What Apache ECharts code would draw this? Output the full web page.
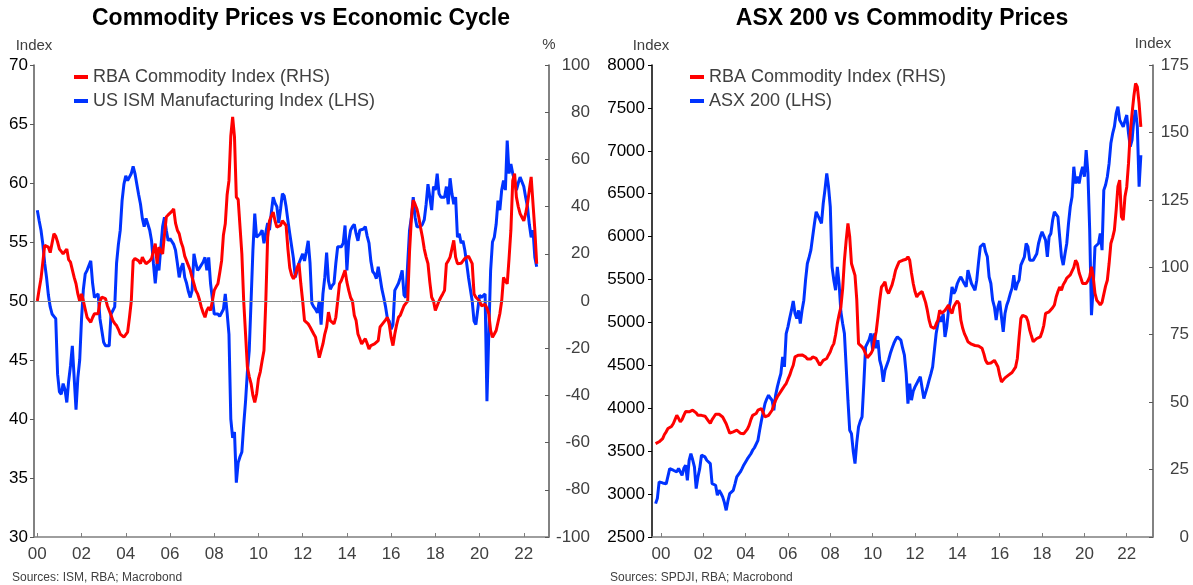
<!DOCTYPE html>
<html>
<head>
<meta charset="utf-8">
<script src="https://cdn.jsdelivr.net/npm/echarts@6/dist/echarts.min.js"></script>
<style>
html, body { margin: 0; padding: 0; background: #fff; }
#chart { width: 1193px; height: 585px; }
</style>
</head>
<body>
<div id="chart"></div>
<script>
// monthly series, left panel starts Jan 2000
var leftStart = 2000;
var ismValues = [
    57.7, 56.8, 56.0, 54.8, 53.2, 52.0, 50.5, 49.5, 48.9, 48.7, 48.5, 43.8,
    42.3, 42.1, 43.0, 42.5, 41.4, 43.2, 44.5, 46.2, 46.1, 40.8, 43.5, 45.0,
    48.5, 51.0, 52.3, 52.6, 53.0, 53.4, 51.5, 50.3, 50.4, 50.6, 48.5, 47.5,
    46.5, 46.2, 46.3, 46.2, 48.9, 49.2, 49.5, 53.2, 54.8, 56.0, 58.5, 59.9,
    60.6, 60.2, 60.2, 60.8, 61.4, 60.8, 59.9, 59.0, 58.2, 57.0, 56.3, 57.0,
    56.5, 56.0, 55.1, 53.2, 51.5, 53.2, 52.6, 54.5, 56.3, 57.1, 56.0, 55.1,
    55.3, 55.4, 54.8, 54.3, 53.2, 52.0, 52.8, 53.2, 52.0, 51.5, 50.8, 50.3,
    50.9, 54.0, 53.2, 52.6, 52.8, 52.9, 53.3, 53.7, 52.6, 53.7, 51.5, 50.2,
    48.9, 48.9, 48.9, 48.7, 48.6, 49.3, 50.6, 49.0, 47.2, 40.0, 38.4, 38.9,
    34.6, 36.3, 36.8, 37.2, 39.5, 41.5, 44.0, 45.8, 50.0, 54.3, 57.4, 55.4,
    55.5, 55.7, 56.0, 54.9, 55.8, 56.6, 56.0, 57.5, 58.8, 58.3, 58.0, 56.6,
    57.8, 59.1, 58.9, 58.0, 56.8, 55.7, 55.8, 53.6, 52.0, 52.6, 53.2, 53.6,
    54.0, 53.4, 54.2, 55.1, 53.2, 49.8, 49.5, 49.3, 49.0, 50.0, 48.0, 50.6,
    52.0, 54.1, 51.7, 51.0, 51.3, 51.5, 53.2, 54.6, 54.6, 54.6, 54.9, 56.4,
    52.6, 55.1, 56.0, 56.3, 56.5, 55.7, 55.1, 56.0, 56.0, 56.1, 56.3, 55.5,
    54.9, 53.4, 52.5, 52.3, 51.9, 52.9, 52.0, 51.0, 50.3, 49.5, 48.5, 48.3,
    47.6, 48.0, 50.9, 51.2, 51.5, 52.0, 52.6, 50.5, 50.3, 53.2, 56.0, 57.1,
    58.8, 57.1, 56.3, 56.3, 56.3, 56.5, 56.9, 58.2, 59.9, 58.8, 57.7, 59.7,
    59.4, 60.8, 59.1, 58.8, 58.8, 58.8, 59.7, 58.2, 60.4, 59.1, 58.2, 58.8,
    55.4, 55.7, 54.9, 55.1, 54.3, 53.2, 52.0, 51.0, 50.0, 48.3, 48.0, 48.0,
    50.5, 50.3, 50.3, 50.6, 41.5, 47.2, 52.6, 55.0, 55.4, 56.5, 58.5, 57.7,
    59.4, 60.2, 59.4, 63.6, 60.8, 61.6, 60.8, 60.2, 59.4, 60.0, 60.5, 60.5,
    59.7, 58.8, 58.0, 56.5, 55.4, 56.0, 53.7, 52.9
];
// RBA commodity index, % y/y
var rbaYoyValues = [
    0, 5, 9.5, 10, 23.6, 23, 22.8, 20.5, 20, 28.5, 27.5, 25,
    22, 21, 20, 21, 22, 17.5, 16.5, 15.8, 10, 7.3, 3, 0,
    3, 0, -3.5, -6.9, -8, -9, -7, -5.4, -5.4, -5.4, 0, 1.6,
    2.3, 1, -2, -4, -6, -8.3, -9.5, -10.4, -12, -14, -14.5, -15.3,
    -14.5, -13.2, -7, 0, 17, 18, 18.6, 17, 15.8, 18.6, 17, 15.8,
    16.5, 17, 18, 18.6, 24.3, 15.8, 22.8, 21, 20, 28, 35.6, 36.5,
    37, 38, 39, 33, 30, 28.5, 25, 22.8, 19, 17, 15, 13,
    10, 7.3, 4.5, 3, 0.5, -2.6, -5, -6.9, -4, -2.6, -4, 0,
    4.5, 6, 7.3, 12, 17, 28, 32.7, 45, 51, 70, 78, 69.5,
    44, 43, 42.6, 20, 0, -14, -28, -32, -35, -40, -43, -39.4,
    -33, -30, -25.3, -21, 0, 27, 34, 36, 37.7, 34, 31.3, 31.5,
    32, 34, 34, 32, 22, 14, 11, 9.4, 10.8, 14, 15.8, 7.3,
    0, -8.3, -9, -9.7, -11, -12.5, -14, -15.4, -20, -24, -21, -18.2,
    -14, -11.1, -4.7, -8.3, -9, -9.7, -6.9, 0, 7.3, 8.7, 8.7, 13,
    8, 4.5, 1.5, 0, -6, -8.3, -14, -16, -18.2, -17, -16, -18,
    -20.3, -18.9, -18.5, -18.2, -17.5, -16.8, -11, -10, -9.7, -8, -6.9, -10,
    -15.4, -18.9, -14, -10, -6.9, -6, -5.4, -2, -1, 0, 21, 35,
    42.7, 41, 39, 35.6, 31, 27, 22, 18.6, 15.8, 8, 1.6, 0,
    -4, -2, 0, 1.6, 3, 4.5, 15.8, 17, 18.6, 19, 25.7, 18.6,
    15.8, 15.8, 16, 17, 18, 18.6, 19, 19.3, 15.8, 3, 1.6, 1.6,
    0, -2, -1.8, -1.5, -3, -5.4, -12.5, -15.4, -14, -12.5, -9, -5.4,
    0, 10, 8.5, 7.3, 18, 30, 51, 54, 44, 40, 37, 35.5,
    34, 37, 41.2, 47, 52.6, 41.2, 30, 15.8
];

// right panel starts Oct 1999
var rightStart = 1999.75;
var asxValues = [
    2889, 2950, 3142,
    3120, 3130, 3140, 3120, 3103, 3297, 3290, 3278, 3265, 3258, 3300, 3317,
    3219, 3300, 3336, 3161, 3394, 3472, 3400, 3317, 3064, 3200, 3297, 3453,
    3440, 3433, 3394, 3375, 3355, 3122, 3110, 3103, 2986, 3044, 3010, 2967,
    2900, 2811, 2920, 3005, 3020, 3044, 3120, 3200, 3230, 3258, 3297, 3340,
    3375, 3410, 3433, 3470, 3511, 3540, 3560, 3627, 3750, 3861, 3960, 4055,
    4110, 4152, 4120, 4094, 3977, 4150, 4249, 4330, 4405, 4599, 4483, 4871,
    4949, 5050, 5143, 5250, 5104, 5046, 5140, 4988, 5143, 5260, 5500, 5687,
    5760, 5843, 5998, 6150, 6290, 6270, 6200, 6154, 6387, 6550, 6737, 6581,
    6348, 5648, 5493, 5376, 5648, 5450, 5124, 4988, 4871, 4483, 4094, 3744,
    3705, 3500, 3355, 3600, 3783, 3850, 3899, 4288, 4716, 4735, 4800, 4871,
    4677, 4871, 4700, 4794, 4560, 4483, 4308, 4444, 4444, 4560, 4638, 4700,
    4755, 4800, 4832, 4815, 4794, 4700, 4619, 4405, 4055, 4288, 4094, 4200,
    4249, 4288, 4330, 4366, 4385, 4113, 4094, 4249, 4327, 4400, 4483, 4502,
    4871, 4988, 5066, 5007, 5104, 4832, 4949, 5143, 5240, 5415, 5337, 5376,
    5454, 5500, 5532, 5512, 5450, 5415, 5609, 5629, 5454, 5415, 5376, 5493,
    5700, 5882, 5900, 5920, 5823, 5765, 5532, 5454, 5260, 5182, 5027, 5182,
    5250, 5066, 4891, 5104, 5200, 5260, 5337, 5400, 5551, 5376, 5454, 5493,
    5668, 5668, 5765, 5920, 5882, 5726, 5726, 5726, 5726, 5800, 5920, 5998,
    6056, 6037, 5959, 5765, 5998, 6037, 6193, 6290, 6309, 6231, 5998, 5765,
    5668, 5800, 5920, 6154, 6348, 6465, 6814, 6620, 6698, 6620, 6737, 6814,
    6698, 7009, 6737, 6076, 5085, 5415, 5882, 5900, 5920, 6037, 5843, 6542,
    6601, 6698, 6853, 7087, 7200, 7281, 7436, 7514, 7359, 7320, 7281, 7350,
    7417, 7203, 7048, 7126, 7359, 7475, 7281, 6581, 6950
];
// RBA commodity index level
var rbaIndexValues = [
    34.6, 35.0, 35.3,
    35.2, 36.5, 38.0, 39.0, 40.2, 40.3, 41.0, 42.0, 42.7, 45.1, 44.0, 42.7,
    43.5, 45.1, 46.5, 47.0, 46.4, 46.8, 47.0, 47.0, 46.0, 45.1, 45.1, 45.1,
    45.0, 44.8, 44.5, 43.0, 42.1, 43.5, 44.5, 45.5, 45.8, 45.5, 45.1, 44.5,
    43.9, 42.0, 40.2, 38.5, 38.3, 39.0, 39.3, 39.6, 39.0, 38.5, 38.3, 38.3,
    38.5, 40.0, 41.4, 43.5, 45.1, 45.5, 45.8, 47.0, 47.3, 47.6, 46.0, 44.5,
    44.8, 45.1, 45.5, 47.0, 49.0, 50.7, 52.0, 52.6, 54.0, 55.0, 56.0, 56.9,
    58.5, 60.0, 62.0, 63.7, 66.8, 67.0, 67.4, 68.0, 67.5, 67.0, 66.8, 66.0,
    65.5, 66.0, 66.8, 66.5, 66.2, 65.0, 63.7, 64.5, 65.5, 66.0, 66.2, 67.5,
    68.7, 70.5, 71.7, 75.0, 79.2, 82.5, 85.3, 92.0, 102.6, 110.0, 116.3, 111.3,
    101.4, 100.8, 97.0, 88.0, 71.7, 71.0, 70.5, 69.5, 69.3, 66.5, 66.2, 68.0,
    69.3, 73.0, 76.1, 81.6, 87.8, 92.7, 93.5, 94.6, 91.5, 90.3, 90.0, 93.5,
    96.0, 98.9, 100.5, 102.0, 102.6, 102.6, 102.6, 103.0, 103.9, 102.6, 98.0, 94.0,
    91.0, 89.0, 90.0, 90.3, 91.0, 91.5, 87.0, 84.0, 80.4, 78.0, 77.5, 77.3,
    79.0, 80.4, 84.1, 82.9, 83.0, 84.0, 85.0, 86.0, 84.0, 82.9, 85.5, 86.6,
    87.5, 86.5, 80.4, 77.5, 75.4, 74.0, 72.4, 71.8, 71.5, 71.1, 71.0, 70.5,
    70.8, 71.1, 70.0, 68.0, 65.5, 64.3, 64.3, 64.5, 64.9, 65.5, 66.2, 63.1,
    60.0, 57.5, 58.1, 59.0, 59.4, 60.0, 60.6, 61.0, 61.2, 63.0, 66.2, 74.0,
    81.0, 82.2, 82.0, 81.6, 80.0, 76.7, 74.5, 72.4, 73.0, 73.6, 74.0, 74.2,
    76.0, 78.5, 82.9, 82.2, 83.5, 84.1, 85.0, 86.0, 89.0, 91.0, 92.7, 91.5,
    93.5, 94.6, 96.0, 96.5, 97.2, 97.7, 100.0, 102.6, 101.4, 98.0, 96.0, 94.0,
    94.0, 94.0, 95.0, 96.5, 100.2, 96.5, 90.3, 87.8, 87.0, 86.0, 87.0, 87.2,
    93.0, 95.2, 101.4, 108.8, 111.0, 113.8, 121.2, 130.0, 132.3, 118.7, 117.5, 126.2,
    129.8, 138.5, 150.0, 157.0, 163.3, 168.2, 166.9, 160.8, 152.1
];

var yearTicks = [2000, 2002, 2004, 2006, 2008, 2010, 2012, 2014, 2016, 2018, 2020, 2022];

var RED = '#ff0000';
var BLUE = '#0033ff';
var FONT = 'Liberation Sans, Arial, sans-serif';

function monthly(start, vals) {
    return vals.map(function (v, i) {
        return [start + i / 12, v];
    });
}

function xAxisFor(idx, min, max) {
    return {
        type: 'value', gridIndex: idx, min: min, max: max,
        axisLine: { onZero: false, lineStyle: { color: '#7f7f7f', width: 1.5 } },
        axisTick: { inside: true, length: 4, customValues: yearTicks, lineStyle: { color: '#7f7f7f' } },
        axisLabel: {
            customValues: yearTicks, color: '#404040', fontSize: 17, margin: 9, fontFamily: FONT,
            formatter: function (v) { return String(Math.round(v)).slice(2); }
        },
        splitLine: { show: false }
    };
}

function yAxisFor(idx, pos, min, max, step, labelColor, margin, lineColor) {
    var right = pos === 'right';
    return {
        type: 'value', gridIndex: idx, position: pos, min: min, max: max, interval: step,
        axisLine: { show: true, lineStyle: { color: lineColor, width: 1.5 } },
        axisTick: { show: true, inside: right, length: 4, lineStyle: { color: lineColor } },
        axisLabel: {
            color: labelColor, fontSize: 17, margin: margin, align: 'right', fontFamily: FONT,
            formatter: function (v) { return String(v); }
        },
        splitLine: { show: false }
    };
}

function legendFor(left, names) {
    return {
        left: left, top: 68, padding: 0, orient: 'vertical',
        itemWidth: 14, itemHeight: 4, itemGap: 6, icon: 'rect',
        textStyle: { fontSize: 18, color: '#404040', fontFamily: FONT },
        data: names
    };
}

var chart = echarts.init(document.getElementById('chart'));
var option = {
    animation: false,
    backgroundColor: '#fff',
    textStyle: { fontFamily: FONT },
    grid: [
        { left: 34, top: 65, width: 515, height: 472 },
        { left: 652, top: 65, width: 501, height: 472 }
    ],
    xAxis: [
        xAxisFor(0, 1999.85, 2023.14),
        xAxisFor(1, 1999.58, 2023.24)
    ],
    yAxis: [
        yAxisFor(0, 'left', 30, 70, 5, '#000', 6, '#595959'),
        yAxisFor(0, 'right', -100, 100, 20, '#404040', 41, '#595959'),
        yAxisFor(1, 'left', 2500, 8000, 500, '#000', 7, '#000'),
        yAxisFor(1, 'right', 0, 175, 25, '#404040', 36, '#595959')
    ],
    legend: [
        legendFor(74, ['RBA Commodity Index (RHS)', 'US ISM Manufacturing Index (LHS)']),
        legendFor(690, ['RBA Commodity Index (RHS)', 'ASX 200 (LHS)'])
    ],
    graphic: [
        { type: 'text', x: 301, y: 19, style: { text: 'Commodity Prices vs Economic Cycle', font: 'bold 23px ' + FONT, fill: '#000', align: 'center', verticalAlign: 'middle' } },
        { type: 'text', x: 902, y: 19, style: { text: 'ASX 200 vs Commodity Prices', font: 'bold 23px ' + FONT, fill: '#000', align: 'center', verticalAlign: 'middle' } },
        { type: 'text', x: 34, y: 46, style: { text: 'Index', font: '15px ' + FONT, fill: '#404040', align: 'center', verticalAlign: 'middle' } },
        { type: 'text', x: 549, y: 45, style: { text: '%', font: '15px ' + FONT, fill: '#404040', align: 'center', verticalAlign: 'middle' } },
        { type: 'text', x: 651, y: 46, style: { text: 'Index', font: '15px ' + FONT, fill: '#404040', align: 'center', verticalAlign: 'middle' } },
        { type: 'text', x: 1153, y: 44, style: { text: 'Index', font: '15px ' + FONT, fill: '#404040', align: 'center', verticalAlign: 'middle' } },
        { type: 'text', x: 12, y: 578, style: { text: 'Sources: ISM, RBA; Macrobond', font: '12px ' + FONT, fill: '#404040', align: 'left', verticalAlign: 'middle' } },
        { type: 'text', x: 610, y: 578, style: { text: 'Sources: SPDJI, RBA; Macrobond', font: '12px ' + FONT, fill: '#404040', align: 'left', verticalAlign: 'middle' } }
    ],
    series: [
        {
            type: 'line', xAxisIndex: 0, yAxisIndex: 0, data: [], z: 1, silent: true,
            markLine: {
                silent: true, symbol: 'none', label: { show: false },
                lineStyle: { color: '#8c8c8c', width: 1, type: 'solid' },
                data: [{ yAxis: 50 }]
            }
        },
        {
            name: 'US ISM Manufacturing Index (LHS)', type: 'line', xAxisIndex: 0, yAxisIndex: 0,
            data: monthly(leftStart, ismValues), showSymbol: false, z: 2,
            lineStyle: { color: BLUE, width: 3 }, itemStyle: { color: BLUE }
        },
        {
            name: 'RBA Commodity Index (RHS)', type: 'line', xAxisIndex: 0, yAxisIndex: 1,
            data: monthly(leftStart, rbaYoyValues), showSymbol: false, z: 3,
            lineStyle: { color: RED, width: 3 }, itemStyle: { color: RED }
        },
        {
            name: 'ASX 200 (LHS)', type: 'line', xAxisIndex: 1, yAxisIndex: 2,
            data: monthly(rightStart, asxValues), showSymbol: false, z: 2,
            lineStyle: { color: BLUE, width: 3 }, itemStyle: { color: BLUE }
        },
        {
            name: 'RBA Commodity Index (RHS)', type: 'line', xAxisIndex: 1, yAxisIndex: 3,
            data: monthly(rightStart, rbaIndexValues), showSymbol: false, z: 3,
            lineStyle: { color: RED, width: 3 }, itemStyle: { color: RED }
        }
    ]
};
chart.setOption(option);
</script>
</body>
</html>
